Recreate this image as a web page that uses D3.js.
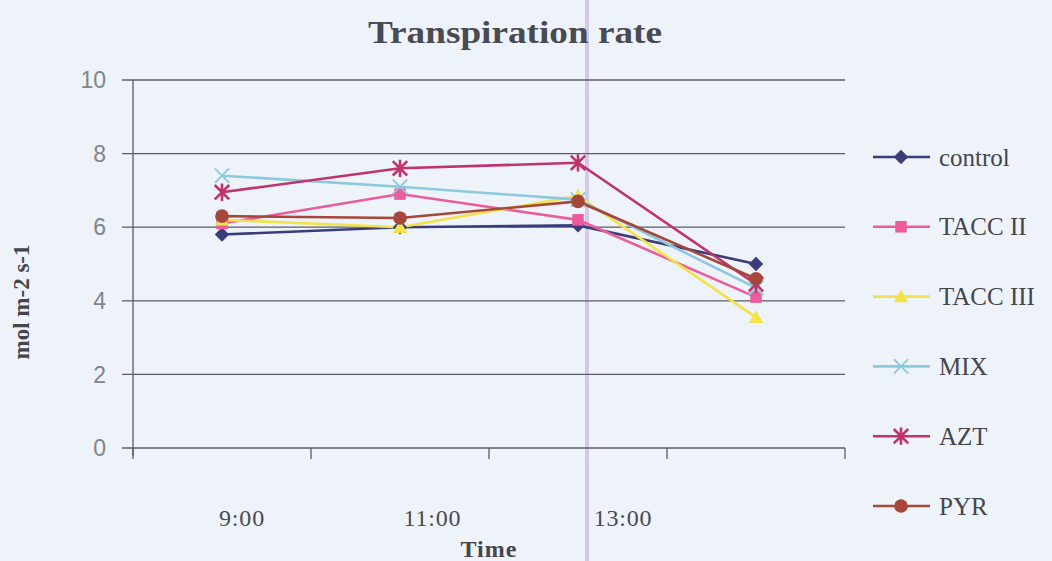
<!DOCTYPE html>
<html>
<head>
<meta charset="utf-8">
<script src="https://cdn.jsdelivr.net/npm/d3@7"></script>
<style>
  html, body { margin: 0; padding: 0; background: #eef2f9; }
  svg { display: block; }
</style>
</head>
<body>
<svg id="chart" width="1052" height="561"></svg>
<script>
// Sampling times (the last one carries no printed label)
const categories = ["9:00", "11:00", "13:00", "15:00"];
const tickLabels = ["9:00", "11:00", "13:00"];
const yTicks = [0, 2, 4, 6, 8, 10];

// Transpiration rate per treatment (mol m-2 s-1)
const control = [5.8, 6.0, 6.05, 5.0];
const taccII  = [6.1, 6.9, 6.2, 4.1];
const taccIII = [6.2, 6.0, 6.85, 3.55];
const mix     = [7.4, 7.1, 6.75, 4.35];
const azt     = [6.95, 7.6, 7.75, 4.45];
const pyr     = [6.3, 6.25, 6.7, 4.6];

const seriesNames = ["control", "TACC II", "TACC III", "MIX", "AZT", "PYR"];
const seriesValues = [control, taccII, taccIII, mix, azt, pyr];
const seriesColors = ["#3b3d7a", "#ec5c9c", "#f3e34a", "#8cc9dd", "#c0336c", "#a5473a"];
const seriesSymbols = ["diamond", "square", "triangle", "x", "star", "circle"];

const svg = d3.select("#chart");
const m = { left: 133, right: 845, top: 80, bottom: 448 };
const serif = "Liberation Serif, Times New Roman, serif";

const x = d3.scaleBand().domain(categories).range([m.left, m.right]);
const y = d3.scaleLinear().domain([0, 10]).range([m.bottom, m.top]);
const labelX = d3.scalePoint().domain(tickLabels).range([242, 623]);

// faint vertical streak across the sheet
svg.append("line")
  .attr("x1", 587).attr("x2", 587).attr("y1", 0).attr("y2", 561)
  .attr("stroke", "#cdbfe3").attr("stroke-width", 4).attr("opacity", 0.8);

// horizontal gridlines with outward ticks
svg.append("g").selectAll("line").data(yTicks).join("line")
  .attr("x1", m.left - 11).attr("x2", m.right)
  .attr("y1", d => y(d)).attr("y2", d => y(d))
  .attr("stroke", "#5a5d66").attr("stroke-width", 1.3);

// y axis line
svg.append("line")
  .attr("x1", m.left).attr("x2", m.left)
  .attr("y1", m.top).attr("y2", m.bottom + 8)
  .attr("stroke", "#5a5d66").attr("stroke-width", 1.3);

// y tick labels
svg.append("g").selectAll("text").data(yTicks).join("text")
  .attr("x", 106).attr("y", d => y(d))
  .attr("dy", "0.36em")
  .attr("text-anchor", "end")
  .attr("font-family", "Liberation Sans, Arial, sans-serif")
  .attr("font-size", 23)
  .attr("fill", "#80848c")
  .text(d => d);

// x category boundary ticks
const bounds = categories.map(c => x(c)).concat([x(categories[categories.length - 1]) + x.bandwidth()]);
svg.append("g").selectAll("line").data(bounds).join("line")
  .attr("x1", d => d).attr("x2", d => d)
  .attr("y1", m.bottom).attr("y2", m.bottom + 11)
  .attr("stroke", "#5a5d66").attr("stroke-width", 1.3);

// x tick labels
svg.append("g").selectAll("text").data(tickLabels).join("text")
  .attr("x", d => labelX(d)).attr("y", 526)
  .attr("text-anchor", "middle")
  .attr("font-family", serif)
  .attr("font-size", 24)
  .attr("letter-spacing", 0.8)
  .attr("fill", "#4a4a50")
  .text(d => d);

// axis titles
svg.append("text")
  .attr("x", (m.left + m.right) / 2).attr("y", 557)
  .attr("text-anchor", "middle")
  .attr("font-family", serif)
  .attr("font-weight", "bold").attr("font-size", 24)
  .attr("letter-spacing", 1)
  .attr("fill", "#45464c")
  .text("Time");

svg.append("text")
  .attr("transform", "translate(29,302) rotate(-90)")
  .attr("text-anchor", "middle")
  .attr("font-family", serif)
  .attr("font-weight", "bold").attr("font-size", 23)
  .attr("fill", "#45464c")
  .text("mol m-2 s-1");

svg.append("text")
  .attr("x", 515).attr("y", 43)
  .attr("text-anchor", "middle")
  .attr("font-family", serif)
  .attr("font-weight", "bold").attr("font-size", 31)
  .attr("textLength", 294).attr("lengthAdjust", "spacingAndGlyphs")
  .attr("fill", "#4a4a52")
  .text("Transpiration rate");

// marker drawing helper
function drawMarker(g, type, color, size) {
  const s = size;
  if (type === "diamond") {
    g.append("path").attr("d", `M0,${-s}L${s},0L0,${s}L${-s},0Z`).attr("fill", color);
  } else if (type === "square") {
    g.append("rect").attr("x", -s * 0.8).attr("y", -s * 0.8)
      .attr("width", s * 1.6).attr("height", s * 1.6).attr("fill", color);
  } else if (type === "triangle") {
    g.append("path").attr("d", `M0,${-s}L${s},${s * 0.8}L${-s},${s * 0.8}Z`).attr("fill", color);
  } else if (type === "x") {
    g.append("path").attr("d", `M${-s},${-s}L${s},${s}M${s},${-s}L${-s},${s}`)
      .attr("stroke", color).attr("stroke-width", 1.8).attr("fill", "none");
  } else if (type === "star") {
    g.append("path")
      .attr("d", `M${-s},${-s}L${s},${s}M${s},${-s}L${-s},${s}M0,${-s * 1.2}L0,${s * 1.2}`)
      .attr("stroke", color).attr("stroke-width", 2.6).attr("fill", "none");
  } else if (type === "circle") {
    g.append("circle").attr("r", s * 0.95).attr("fill", color);
  }
}

// series lines and markers
const line = d3.line().x((d, i) => x(categories[i]) + x.bandwidth() / 2).y(d => y(d));
seriesValues.forEach((vals, k) => {
  svg.append("path")
    .datum(vals)
    .attr("d", line)
    .attr("fill", "none")
    .attr("stroke", seriesColors[k])
    .attr("stroke-width", 2.6);
});
seriesValues.forEach((vals, k) => {
  vals.forEach((v, i) => {
    const g = svg.append("g")
      .attr("transform", `translate(${x(categories[i]) + x.bandwidth() / 2},${y(v)})`);
    drawMarker(g, seriesSymbols[k], seriesColors[k], 7.2);
  });
});

// legend
const legendY = d3.scalePoint().domain(seriesNames).range([157, 506]);
seriesNames.forEach((name, k) => {
  const ly = legendY(name);
  svg.append("line")
    .attr("x1", 873).attr("x2", 930).attr("y1", ly).attr("y2", ly)
    .attr("stroke", seriesColors[k]).attr("stroke-width", 2.6);
  const g = svg.append("g").attr("transform", `translate(901,${ly})`);
  drawMarker(g, seriesSymbols[k], seriesColors[k], 7.2);
  svg.append("text")
    .attr("x", 939).attr("y", ly)
    .attr("dy", "0.34em")
    .attr("font-family", serif)
    .attr("font-size", 25)
    .attr("fill", "#45464c")
    .text(name);
});
</script>
</body>
</html>
